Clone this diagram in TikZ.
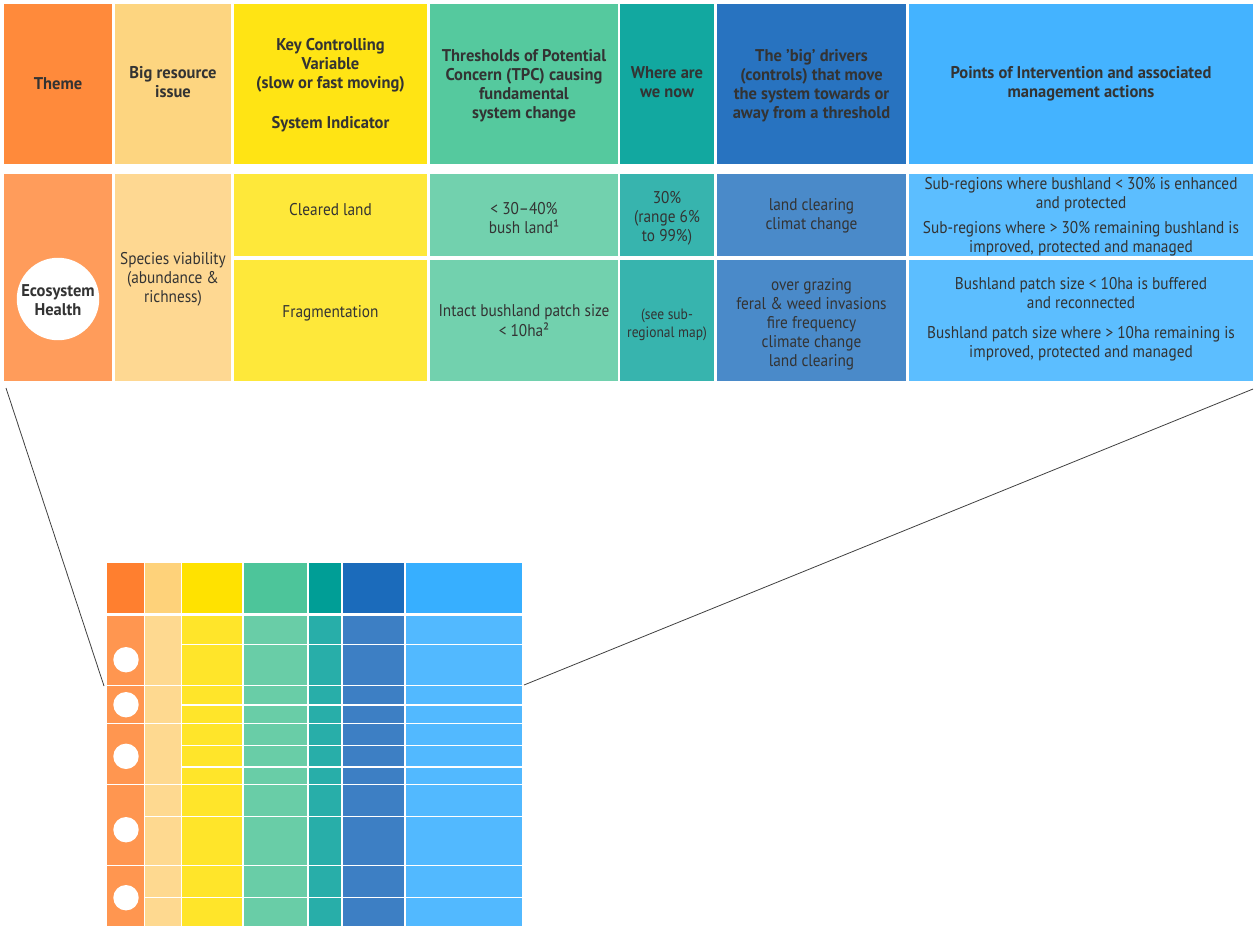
\documentclass[tikz,border=0pt]{standalone}
\usepackage{fontspec}
\setmainfont{PT Sans}[FakeStretch=0.9]
\newfontfamily\headfont{PT Sans}[FakeStretch=0.97]
\usepackage{xcolor}

\definecolor{txt}{HTML}{333333}
\definecolor{hOrange}{HTML}{FF8A3B}
\definecolor{hSand}{HTML}{FDD580}
\definecolor{hYellow}{HTML}{FFE414}
\definecolor{hGreen}{HTML}{55C99E}
\definecolor{hTeal}{HTML}{12A8A0}
\definecolor{hBlue}{HTML}{2873C0}
\definecolor{hSky}{HTML}{44B3FF}
\definecolor{dOrange}{HTML}{FF9C5B}
\definecolor{dSand}{HTML}{FED892}
\definecolor{dYellow}{HTML}{FEE83A}
\definecolor{dGreen}{HTML}{72D1AE}
\definecolor{dTeal}{HTML}{37B4AE}
\definecolor{dBlue}{HTML}{4A8AC9}
\definecolor{dSky}{HTML}{5CBEFF}
\definecolor{mOrange}{HTML}{FF7F2F}
\definecolor{mSand}{HTML}{FED27A}
\definecolor{mYellow}{HTML}{FFE200}
\definecolor{mGreen}{HTML}{4DC59A}
\definecolor{mTeal}{HTML}{009E96}
\definecolor{mBlue}{HTML}{1B6BBB}
\definecolor{mSky}{HTML}{37AFFF}
\definecolor{nOrange}{HTML}{FF9650}
\definecolor{nSand}{HTML}{FED990}
\definecolor{nYellow}{HTML}{FFE52A}
\definecolor{nGreen}{HTML}{69CDA7}
\definecolor{nTeal}{HTML}{28AEA9}
\definecolor{nBlue}{HTML}{3D7FC4}
\definecolor{nSky}{HTML}{52B9FF}

\newcommand\celltext[2][-2pt]{\raisebox{#1}[\height][\depth]{%
  \begin{tabular}{@{}c@{}}#2\end{tabular}}}

\begin{document}
\begin{tikzpicture}[x=1pt,y=-1pt,
    cell/.style 2 args={anchor=north west,inner sep=0pt,outer sep=0pt,
      minimum width=#1,minimum height=#2,text=txt,
      font=\fontsize{17}{19}\selectfont},
    head/.style 2 args={cell={#1}{#2},font=\fontsize{17}{19}\selectfont\headfont\bfseries},
    mini/.style={draw=white,line width=1.5pt},
    zoomline/.style={draw=black!75,line width=0.8pt}]
    \useasboundingbox (0,0) rectangle (1257,927);

    \node[head={108pt}{160pt},fill=hOrange] (theme) at (4,4) {\celltext{Theme}};
    \node[head={116pt}{160pt},fill=hSand] (issue) at (115,4)
      {\celltext[-0.5pt]{Big resource\\issue}};
    \node[head={193pt}{160pt},fill=hYellow] (kcv) at (234,4)
      {\celltext[-1.2pt]{Key Controlling\\Variable\\(slow or fast moving)\\[21pt]System Indicator}};
    \node[head={188pt}{160pt},fill=hGreen] (tpc) at (430,4)
      {\celltext[-1.7pt]{Thresholds of Potential\\Concern (TPC) causing\\fundamental\\system change}};
    \node[head={94pt}{160pt},fill=hTeal] (now) at (620,4)
      {\celltext[-0.5pt]{Where are\\we now}};
    \node[head={189pt}{160pt},fill=hBlue] (drv) at (717,4)
      {\celltext[-1.7pt]{The ’big’ drivers\\(controls) that move\\the system towards or\\away from a threshold}};
    \node[head={344pt}{160pt},fill=hSky] (pts) at (909,4)
      {\celltext[-0.5pt]{Points of Intervention and associated\\management actions}};

    \node[cell={108pt}{207pt},fill=dOrange] (themeA) at (4,174) {};
    \node[circle,fill=white,minimum size=82pt,inner sep=0pt,text=txt,
      font=\fontsize{17}{19}\selectfont\headfont\bfseries] (eco) at (58,299)
      {\celltext[-3pt]{Ecosystem\\Health}};
    \node[cell={116pt}{207pt},fill=dSand] (issueA) at (115,174)
      {\celltext[-1.7pt]{Species viability\\(abundance \&\\richness)}};

    \node[cell={193pt}{82pt},fill=dYellow] (kcvA) at (234,174) {\celltext[3.8pt]{Cleared land}};
    \node[cell={188pt}{82pt},fill=dGreen] (tpcA) at (430,174)
      {\celltext[-5pt]{< 30--40\%\\bush land¹}};
    \node[cell={94pt}{82pt},fill=dTeal] (nowA) at (620,174)
      {\celltext[-4pt]{30\%\\(range 6\%\\to 99\%)}};
    \node[cell={189pt}{82pt},fill=dBlue] (drvA) at (717,174)
      {\celltext[-1.2pt]{land clearing\\climat change}};
    \node[cell={344pt}{82pt},fill=dSky] (ptsA) at (909,174)
      {\celltext{Sub-regions where bushland < 30\% is enhanced\\and protected\\[5.5pt]
       Sub-regions where > 30\% remaining bushland is\\improved, protected and managed}};

    \node[cell={193pt}{121pt},fill=dYellow] (kcvB) at (234,260) {\celltext[7pt]{Fragmentation}};
    \node[cell={188pt}{121pt},fill=dGreen] (tpcB) at (430,260)
      {\celltext{Intact bushland patch size\\< 10ha²}};
    \node[cell={94pt}{121pt},fill=dTeal,font=\fontsize{15}{18}\selectfont] (nowB) at (620,260)
      {\celltext[-4.6pt]{(see sub-\\regional map)}};
    \node[cell={189pt}{121pt},fill=dBlue] (drvB) at (717,260)
      {\celltext[-4pt]{over grazing\\feral \& weed invasions\\fire frequency\\climate change\\land clearing}};
    \node[cell={344pt}{121pt},fill=dSky] (ptsB) at (909,260)
      {\celltext[1pt]{Bushland patch size < 10ha is buffered\\and reconnected\\[10.5pt]
       Bushland patch size where > 10ha remaining is\\improved, protected and managed}};

    \foreach \xa/\xb/\c in {106.5/144.5/mOrange,144.5/181.5/mSand,181.5/243/mYellow,
        243/308/mGreen,308/342/mTeal,342/405/mBlue,405/522.5/mSky}
      \filldraw[mini,fill=\c] (\xa,562) rectangle (\xb,614);
    \foreach \ya/\yb in {615/685.5,685.5/723.5,723.5/784.5,784.5/865.5,865.5/926.5}
      \filldraw[mini,fill=nOrange] (106.5,\ya) rectangle (144.5,\yb);
    \foreach \ya/\yb in {615/685.5,685.5/723.5,723.5/784.5,784.5/816.5,816.5/865.5,
        865.5/897.5,897.5/926.5}
      \filldraw[mini,fill=nSand] (144.5,\ya) rectangle (181.5,\yb);
    \foreach \ya/\yb in {615/644.5,644.5/685.5,685.5/705,705/723.5,723.5/745.5,745.5/767,
        767/784.5,784.5/816.5,816.5/865.5,865.5/897.5,897.5/926.5}
      \foreach \xa/\xb/\c in {181.5/243/nYellow,243/308/nGreen,308/342/nTeal,
          342/405/nBlue,405/522.5/nSky}
        \filldraw[mini,fill=\c] (\xa,\ya) rectangle (\xb,\yb);
    \foreach \y in {659.7,704.7,756.3,829.7,897.7}
      \fill[white] (126,\y) circle (12.7pt);

    \coordinate (bl) at (6,388);
    \coordinate (br) at (1253,389);
    \coordinate (zl) at (104,686);
    \coordinate (zr) at (524,685);
    \draw[zoomline] (bl) -- (zl);
    \draw[zoomline] (br) -- (zr);
  \end{tikzpicture}
\end{document}
